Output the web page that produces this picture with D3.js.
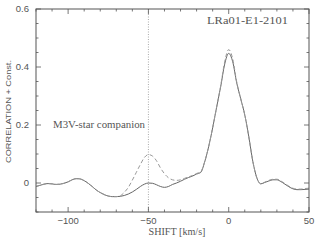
<!DOCTYPE html>
<html><head><meta charset="utf-8">
<script src="https://cdn.jsdelivr.net/npm/d3@7"></script>
<style>body{margin:0;background:#fff}svg{display:block}</style>
</head><body>
<svg id="c" width="319" height="242"></svg>
<script>
const shifts = [-120,-117.5,-115,-112.5,-110,-107.5,-105,-102.5,-100,-97.5,-95,-92.5,-90,-87.5,-85,-82.5,-80,-77.5,-75,-72.5,-70,-67.5,-65,-62.5,-60,-57.5,-55,-52.5,-50,-47.5,-45,-42.5,-40,-37.5,-35,-32.5,-30,-27.5,-25,-22.5,-20,-17.5,-15,-12.5,-10,-7.5,-5,-2.5,0,2.5,5,7.5,10,12.5,15,17.5,20,22.5,25,27.5,30,32.5,35,37.5,40,42.5,45,47.5,50];
const solid = [-0.012,-0.008,-0.004,-0.002,-0.003,-0.005,-0.004,-0.001,0.004,0.011,0.015,0.014,0.008,-0.001,-0.012,-0.024,-0.033,-0.040,-0.045,-0.047,-0.047,-0.046,-0.043,-0.038,-0.031,-0.022,-0.012,-0.004,0.000,-0.001,-0.006,-0.012,-0.015,-0.012,-0.005,0.000,0.006,0.013,0.019,0.024,0.031,0.036,0.072,0.125,0.190,0.262,0.332,0.410,0.447,0.418,0.345,0.290,0.235,0.160,0.075,0.018,-0.003,0.002,0.007,0.011,0.011,0.005,-0.004,-0.013,-0.020,-0.023,-0.023,-0.022,-0.021];
const dashed = [-0.012,-0.008,-0.004,-0.002,-0.003,-0.005,-0.004,-0.001,0.004,0.011,0.015,0.014,0.008,-0.001,-0.012,-0.024,-0.033,-0.040,-0.045,-0.047,-0.047,-0.044,-0.032,-0.015,0.010,0.037,0.064,0.088,0.098,0.093,0.077,0.052,0.032,0.018,0.011,0.009,0.011,0.016,0.021,0.026,0.033,0.038,0.073,0.125,0.190,0.262,0.335,0.418,0.460,0.428,0.348,0.290,0.235,0.160,0.075,0.018,-0.002,0.003,0.009,0.013,0.013,0.007,-0.002,-0.011,-0.018,-0.021,-0.021,-0.019,-0.018];
const xTickLabels = [-100,-50,0,50];
const yTickLabels = [0,0.2,0.4,0.6];

const svg = d3.select("#c");
const L=36, R=309, T=9, B=212;
const x = d3.scaleLinear().domain([-120,50]).range([L,R]);
const y = d3.scaleLinear().domain([-0.1,0.6]).range([B,T]);
const col = "#555";

// dotted marker line
svg.append("line").attr("x1",x(-50)).attr("x2",x(-50)).attr("y1",T).attr("y2",B)
  .attr("stroke","#aaa").attr("stroke-width",1).attr("stroke-dasharray","1,1.5");

// curves
const line = d3.line().x((d,i)=>x(shifts[i])).y(d=>y(d)).curve(d3.curveMonotoneX);
svg.append("path").attr("d",line(solid)).attr("fill","none").attr("stroke","#666").attr("stroke-width",1);
svg.append("path").attr("d",line(dashed)).attr("fill","none").attr("stroke","#999").attr("stroke-width",1).attr("stroke-dasharray","4,2.5");

// frame
svg.append("rect").attr("x",L).attr("y",T).attr("width",R-L).attr("height",B-T)
  .attr("fill","none").attr("stroke",col).attr("stroke-width",1);

// ticks (inside, all sides)
const xMinor = d3.range(-120,50.01,10), yMinor = d3.range(-0.1,0.601,0.05);
const g = svg.append("g").attr("stroke",col).attr("stroke-width",0.8);
xMinor.forEach(v=>{
  const major = Math.abs(v%50)<1e-6; const len = major?5:2.5;
  g.append("line").attr("x1",x(v)).attr("x2",x(v)).attr("y1",B).attr("y2",B-len);
  g.append("line").attr("x1",x(v)).attr("x2",x(v)).attr("y1",T).attr("y2",T+len);
});
yMinor.forEach(v=>{
  const major = Math.abs(Math.round(v*10)/10-v)<1e-6 && Math.round(v*10)%2===0; const len = major?5:2.5;
  g.append("line").attr("x1",L).attr("x2",L+len).attr("y1",y(v)).attr("y2",y(v));
  g.append("line").attr("x1",R).attr("x2",R-len).attr("y1",y(v)).attr("y2",y(v));
});

// tick labels
const sans = "Liberation Sans, Arial, sans-serif";
svg.selectAll(".xl").data(xTickLabels).enter().append("text")
  .attr("x",d=>x(d)).attr("y",224).attr("text-anchor","middle")
  .attr("font-family",sans).attr("font-size",9.5).attr("fill",col)
  .text(d=>d<0?"\u2212"+Math.abs(d):d);
svg.selectAll(".yl").data(yTickLabels).enter().append("text")
  .attr("x",29).attr("y",d=>y(d)+3.3).attr("text-anchor","end")
  .attr("font-family",sans).attr("font-size",9.5).attr("fill",col)
  .text(d=>d===0?"0":d.toFixed(1));

// axis titles
const serif = "Liberation Serif, Times New Roman, serif";
svg.append("text").attr("x",177).attr("y",235).attr("text-anchor","middle")
  .attr("font-family",serif).attr("font-size",9.5).attr("fill",col)
  .attr("textLength",57).attr("lengthAdjust","spacingAndGlyphs").text("SHIFT [km/s]");
svg.append("text").attr("transform","translate(10.5,111.5) rotate(-90)").attr("text-anchor","middle")
  .attr("font-family",sans).attr("font-size",8).attr("fill",col)
  .attr("textLength",103).attr("lengthAdjust","spacingAndGlyphs").text("CORRELATION + Const.");

// annotations
svg.append("text").attr("x",207).attr("y",23.5)
  .attr("font-family",serif).attr("font-size",9.5).attr("fill",col)
  .attr("textLength",81).attr("lengthAdjust","spacingAndGlyphs").text("LRa01-E1-2101");
svg.append("text").attr("x",53).attr("y",128)
  .attr("font-family",serif).attr("font-size",9.5).attr("fill",col)
  .attr("textLength",92).attr("lengthAdjust","spacingAndGlyphs").text("M3V-star companion");
</script>
</body></html>
